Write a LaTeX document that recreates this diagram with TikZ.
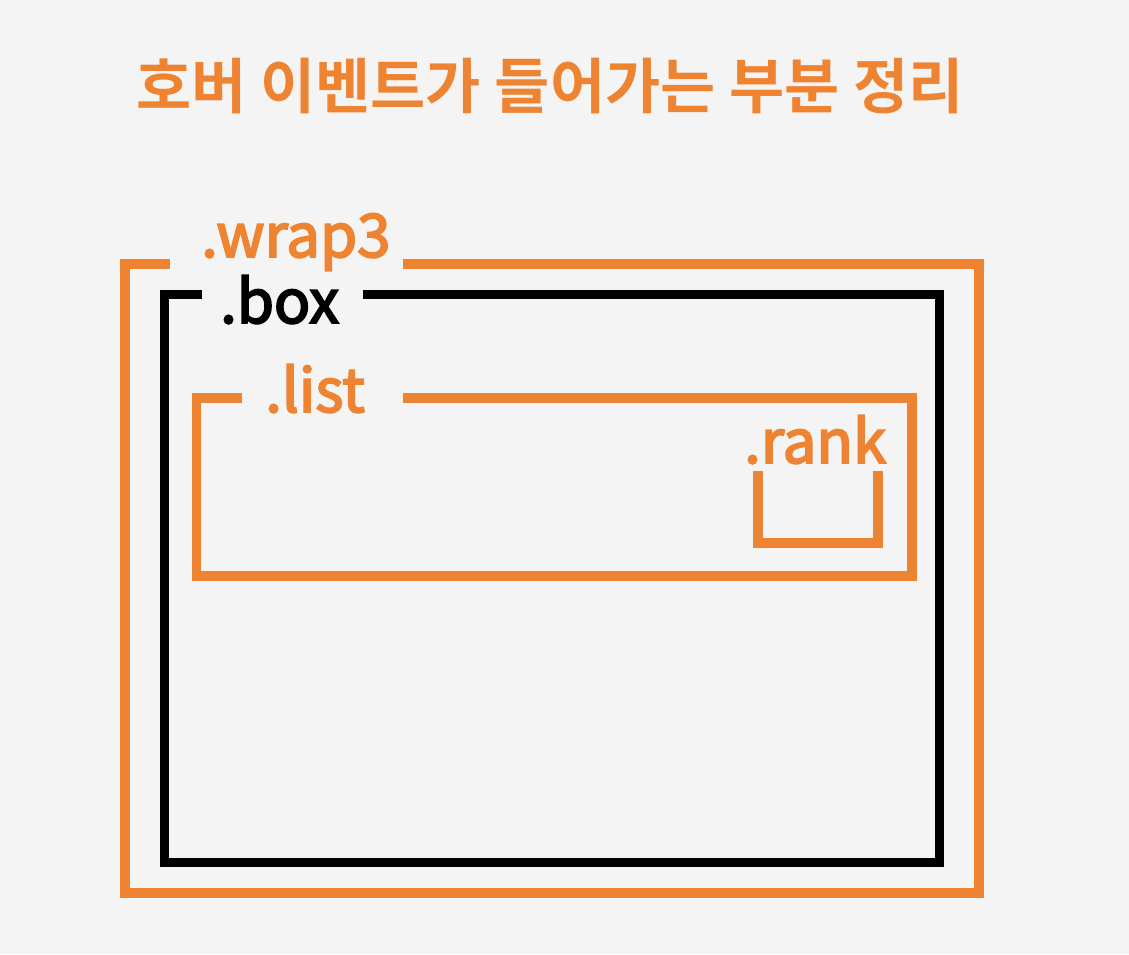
\documentclass[tikz,border=0pt]{standalone}
\usepackage{fontspec}
\newfontfamily\krfont{Noto Sans CJK KR}[BoldFont={Noto Sans CJK KR Bold}]
\newfontfamily\krmed{Noto Sans CJK KR}[FakeBold=3.2]
\definecolor{bgc}{HTML}{F4F4F4}
\definecolor{orng}{HTML}{EE8332}
\tikzset{
  frameo/.style={draw=orng, line width=9.5pt, line join=miter, line cap=butt},
  frameb/.style={draw=black, line width=9pt, line join=miter, line cap=butt},
  lbl/.style={anchor=base west, inner sep=0pt, font=\krmed\fontsize{60}{60}\selectfont},
  titlelbl/.style={anchor=center, inner sep=0pt, text=orng, font=\krfont\bfseries\fontsize{60}{60}\selectfont}
}
\begin{document}
\begin{tikzpicture}[x=1pt,y=-1pt]
\fill[bgc] (0,0) rectangle (1129,954);
\useasboundingbox (0,0) rectangle (1129,954);
\node[titlelbl] (title) at (550,86) {호버 이벤트가 들어가는 부분 정리};
% wrap3
\node[lbl, text=orng] (wrap) at (201,257) {.wrap3};
\draw[frameo] (170,264) -- (125,264) -- (125,893) -- (979,893) -- (979,264) -- (403,264);
% box
\node[lbl, text=black] (box) at (220,323) {.box};
\draw[frameb] (202,294) -- (164,294) -- (164,862) -- (939,862) -- (939,294) -- (363,294);
% list
\node[lbl, text=orng] (list) at (265,412) {.list};
\draw[frameo] (242,398) -- (196.5,398) -- (196.5,576) -- (912,576) -- (912,398) -- (403,398);
% rank
\node[lbl, text=orng] (rank) at (744,463) {.rank};
\draw[frameo] (758,471) -- (758,543) -- (878,543) -- (878,471);
\end{tikzpicture}
\end{document}
